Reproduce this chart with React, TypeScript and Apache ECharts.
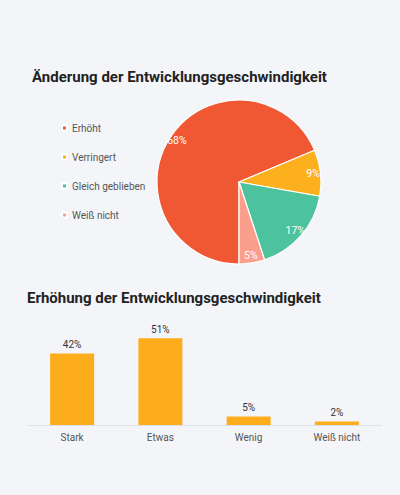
import React, { useEffect, useRef } from "react";
import * as echarts from "echarts";

const pieNames = ["Erhöht", "Verringert", "Gleich geblieben", "Weiß nicht"];
const pieValues = [68, 9, 17, 5];
const pieColors = ["#f05733", "#fcb01e", "#4cc39d", "#fb9e8e"];

const barCategories = ["Stark", "Etwas", "Wenig", "Weiß nicht"];
const barValues = [42, 51, 5, 2];

const title1 = "Änderung der Entwicklungsgeschwindigkeit";
const title2 = "Erhöhung der Entwicklungsgeschwindigkeit";

export default function App() {
  const ref = useRef<HTMLDivElement>(null);
  useEffect(() => {
    document.body.style.margin = "0";
    const chart = echarts.init(ref.current!, null, { renderer: "svg" });
    const font = "Roboto, 'Liberation Sans', sans-serif";
    const pieData = pieNames.map((n, i) => ({
      name: n,
      value: pieValues[i],
      itemStyle: { color: pieColors[i] },
    }));
    chart.setOption({
      animation: false,
      backgroundColor: "#f4f5f8",
      textStyle: { fontFamily: font },
      title: [
        {
          text: title1,
          left: 27,
          top: 64,
          textStyle: { fontSize: 15, fontWeight: "bold", color: "#222", fontFamily: font },
        },
        {
          text: title2,
          left: 22,
          top: 285,
          textStyle: { fontSize: 15, fontWeight: "bold", color: "#222", fontFamily: font },
        },
      ],
      legend: {
        orient: "vertical",
        left: 56,
        top: 118,
        icon: "rect",
        itemWidth: 5,
        itemHeight: 5,
        itemGap: 19,
        textStyle: { fontSize: 10, color: "#555", fontFamily: font },
        data: pieNames.map((n, i) => ({ name: n, itemStyle: { color: pieColors[i] } })),
      },
      grid: { left: 28, right: 19, top: 323, bottom: 70 },
      xAxis: {
        type: "category",
        data: barCategories,
        axisTick: { show: false },
        axisLine: { lineStyle: { color: "#dde0e6" } },
        axisLabel: { fontSize: 10, color: "#555", margin: 7, fontFamily: font },
      },
      yAxis: {
        type: "value",
        min: 0,
        max: 60,
        show: false,
        splitLine: { show: false },
      },
      series: [
        {
          type: "pie",
          center: [239, 182],
          radius: [0, 82],
          startAngle: 270,
          clockwise: true,
          data: pieData,
          label: { show: false },
          labelLine: { show: false },
          itemStyle: { borderColor: "#fff", borderWidth: 1.2 },
        },
        {
          type: "pie",
          center: [239, 182],
          radius: [61, 82],
          startAngle: 270,
          clockwise: true,
          silent: true,
          z: 5,
          avoidLabelOverlap: false,
          data: pieNames.map((n, i) => ({ name: n, value: pieValues[i] })),
          itemStyle: { color: "rgba(0,0,0,0)", borderWidth: 0 },
          label: {
            show: true,
            position: "inside",
            formatter: "{c}%",
            color: "#fff",
            fontSize: 10.5,
            fontFamily: font,
          },
          labelLine: { show: false },
          legendHoverLink: false,
        },
        {
          type: "bar",
          data: barValues,
          barWidth: 44,
          itemStyle: { color: "#fdad1c" },
          label: {
            show: true,
            position: "top",
            formatter: "{c}%",
            fontSize: 10,
            color: "#333",
            distance: 4,
            fontFamily: font,
          },
        },
      ],
    });
    return () => chart.dispose();
  }, []);
  return <div ref={ref} style={{ width: 400, height: 495 }} />;
}
